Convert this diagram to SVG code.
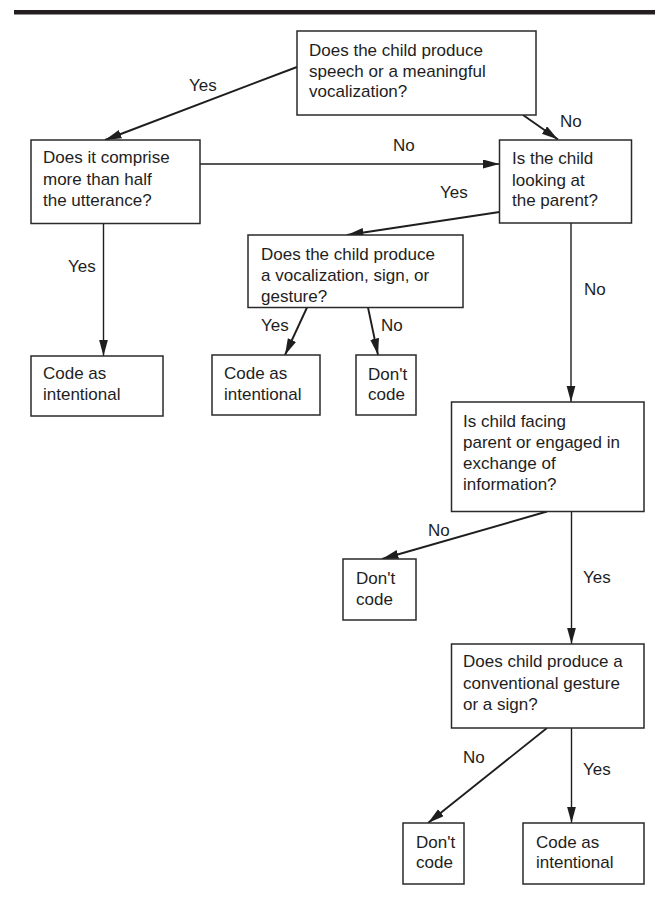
<svg xmlns="http://www.w3.org/2000/svg" width="655" height="907" viewBox="0 0 655 907">
<style>
.box{fill:#fff;stroke:#2a2a2a;stroke-width:1.5}
text{font-family:"Liberation Sans",Arial,sans-serif;font-size:17px;fill:#1e1e1e}
.c{stroke:#1e1e1e;stroke-width:1.4;fill:none;marker-end:url(#ah)}
.d{stroke:#1e1e1e;stroke-width:1.9;fill:none;marker-end:url(#ah)}
</style>
<defs>
<marker id="ah" markerUnits="userSpaceOnUse" markerWidth="18" markerHeight="10" refX="16.5" refY="4.5" orient="auto">
<path d="M0,0 L16.5,4.5 L0,9 z" fill="#1e1e1e"/>
</marker>
</defs>
<rect x="14" y="10" width="641" height="4.5" fill="#231f20"/>
<g id="connectors">
<line class="d" x1="297" y1="67" x2="105" y2="140"/>
<line class="d" x1="523" y1="115" x2="558" y2="139.5"/>
<line class="c" x1="200" y1="164" x2="499.5" y2="164"/>
<line class="d" x1="499.5" y1="212" x2="347" y2="235"/>
<line class="c" x1="103.5" y1="223.5" x2="103.5" y2="356"/>
<line class="d" x1="307" y1="307.5" x2="285" y2="355"/>
<line class="d" x1="368" y1="307.5" x2="378" y2="355"/>
<line class="c" x1="571" y1="223" x2="571" y2="402"/>
<line class="d" x1="547" y1="511.5" x2="382" y2="559"/>
<line class="c" x1="571.5" y1="511.5" x2="571.5" y2="644"/>
<line class="d" x1="547" y1="728" x2="428" y2="823"/>
<line class="c" x1="571.5" y1="728" x2="571.5" y2="823"/>
<text x="189" y="91">Yes</text>
<text x="560" y="127">No</text>
<text x="393" y="151">No</text>
<text x="440" y="198">Yes</text>
<text x="68" y="272">Yes</text>
<text x="261" y="331">Yes</text>
<text x="381" y="331">No</text>
<text x="584" y="295">No</text>
<text x="428" y="536">No</text>
<text x="583" y="583">Yes</text>
<text x="463" y="763">No</text>
<text x="583" y="775">Yes</text>
</g>
<g id="nodeA">
<rect class="box" x="297" y="31" width="239" height="84"/>
<text x="309" y="56">Does the child produce</text>
<text x="309" y="76.5">speech or a meaningful</text>
<text x="309" y="97">vocalization?</text>
</g>
<g id="nodeB">
<rect class="box" x="31" y="140" width="169" height="83.5"/>
<text x="43" y="163">Does it comprise</text>
<text x="43" y="184.5">more than half</text>
<text x="43" y="206">the utterance?</text>
</g>
<g id="nodeC">
<rect class="box" x="499.5" y="140" width="132" height="83"/>
<text x="512" y="164">Is the child</text>
<text x="512" y="185.5">looking at</text>
<text x="512" y="206">the parent?</text>
</g>
<g id="nodeD">
<rect class="box" x="248" y="235" width="215" height="72.5"/>
<text x="261" y="259.5">Does the child produce</text>
<text x="261" y="280.5">a vocalization, sign, or</text>
<text x="261" y="301.5">gesture?</text>
</g>
<g id="nodeH">
<rect class="box" x="31" y="356" width="132" height="60"/>
<text x="43" y="379">Code as</text>
<text x="43" y="400">intentional</text>
</g>
<g id="nodeE">
<rect class="box" x="212" y="355" width="108" height="60"/>
<text x="224" y="379">Code as</text>
<text x="224" y="400">intentional</text>
</g>
<g id="nodeF">
<rect class="box" x="356" y="355" width="60" height="60"/>
<text x="368" y="380">Don't</text>
<text x="368" y="400">code</text>
</g>
<g id="nodeG">
<rect class="box" x="451.5" y="402" width="192.5" height="109.5"/>
<text x="463" y="426.5">Is child facing</text>
<text x="463" y="447.5">parent or engaged in</text>
<text x="463" y="468.5">exchange of</text>
<text x="463" y="489.5">information?</text>
</g>
<g id="nodeI">
<rect class="box" x="343" y="559" width="73" height="61"/>
<text x="356" y="584">Don't</text>
<text x="356" y="605">code</text>
</g>
<g id="nodeJ">
<rect class="box" x="451.5" y="644" width="192.5" height="84"/>
<text x="463" y="667">Does child produce a</text>
<text x="463" y="688.5">conventional gesture</text>
<text x="463" y="710">or a sign?</text>
</g>
<g id="nodeK">
<rect class="box" x="403" y="823" width="61" height="61"/>
<text x="416" y="848">Don't</text>
<text x="416" y="868">code</text>
</g>
<g id="nodeL">
<rect class="box" x="523" y="823" width="121" height="61"/>
<text x="536" y="848">Code as</text>
<text x="536" y="868">intentional</text>
</g>
</svg>
